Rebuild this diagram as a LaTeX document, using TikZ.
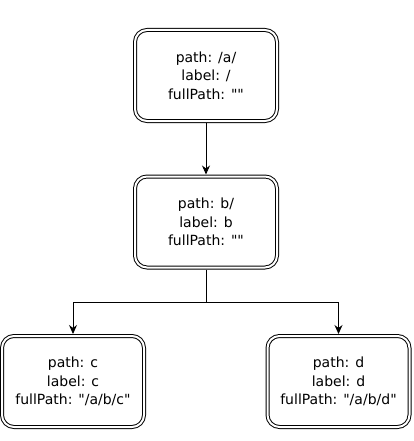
\documentclass[tikz,border=0pt]{standalone}
\usepackage{fontspec}
\setmainfont{DejaVu Sans}[Ligatures=TeXOff]
\usetikzlibrary{arrows.meta,positioning}
\tikzset{
  >={Stealth[length=9pt,width=8pt]},
  tnode/.style={draw=black,line width=1pt,double=white,double distance=2pt,rounded corners=12pt,
    minimum width=142pt,minimum height=91pt,inner sep=0pt,outer sep=2pt,align=center,
    font=\fontsize{14}{18.5}\selectfont},
  link/.style={line width=0.9pt,draw=black},
  alink/.style={link,->},
}

\begin{document}
\begin{tikzpicture}[x=1pt,y=-1pt]
  \useasboundingbox (0,0) rectangle (413,441);
  \node[tnode] (root) at (206,75.5) {path: /a/\\label: /\\fullPath: ""};
  \node[tnode] (b) at (206,222) {path: b/\\label: b\\fullPath: ""};
  \node[tnode] (c) at (73,381.5) {path: c\\label: c\\fullPath: "/a/b/c"};
  \node[tnode] (d) at (338.5,381.5) {path: d\\label: d\\fullPath: "/a/b/d"};
  \coordinate (fork) at (206,302);
  \draw[alink] (root) -- (b);
  \draw[link] (b) -- (fork);
  \draw[alink] (fork) -| (c);
  \draw[alink] (fork) -| (d);
\end{tikzpicture}
\end{document}
